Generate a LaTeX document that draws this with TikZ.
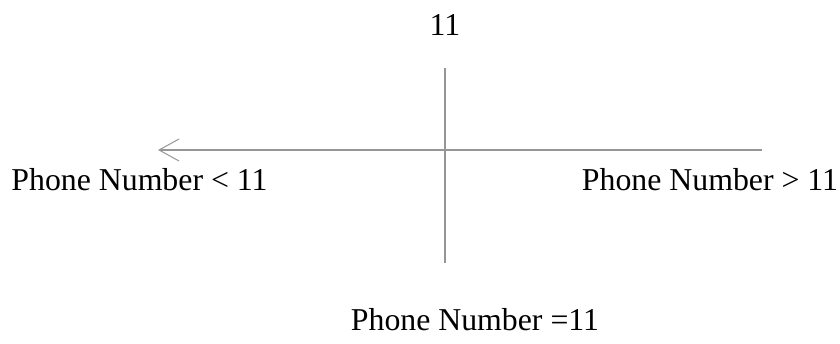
\documentclass[tikz,border=0pt]{standalone}
\usepackage{fontspec}
\setmainfont{Liberation Serif}
\usetikzlibrary{arrows.meta}
\definecolor{axisgray}{RGB}{150,150,150}
\begin{document}
\begin{tikzpicture}[x=1pt,y=1pt,line width=1.4pt,font=\fontsize{31.8}{36}\selectfont]
\useasboundingbox (0,0) rectangle (840,343);
\coordinate (top) at (445,275);\coordinate (bot) at (445,80);
\coordinate (west) at (158,193);\coordinate (east) at (762,193);
\draw[axisgray] (top)--(bot);
\draw[axisgray,-{Straight Barb[length=20pt,width=22pt,line width=1pt]}] (east)--(west);
\node (eleven) at (445,318) {11};
\node (less) at (139.5,163) {Phone Number < 11};
\node (more) at (710,163) {Phone Number > 11};
\node (equal) at (475,23) {Phone Number =11};
\end{tikzpicture}
\end{document}
